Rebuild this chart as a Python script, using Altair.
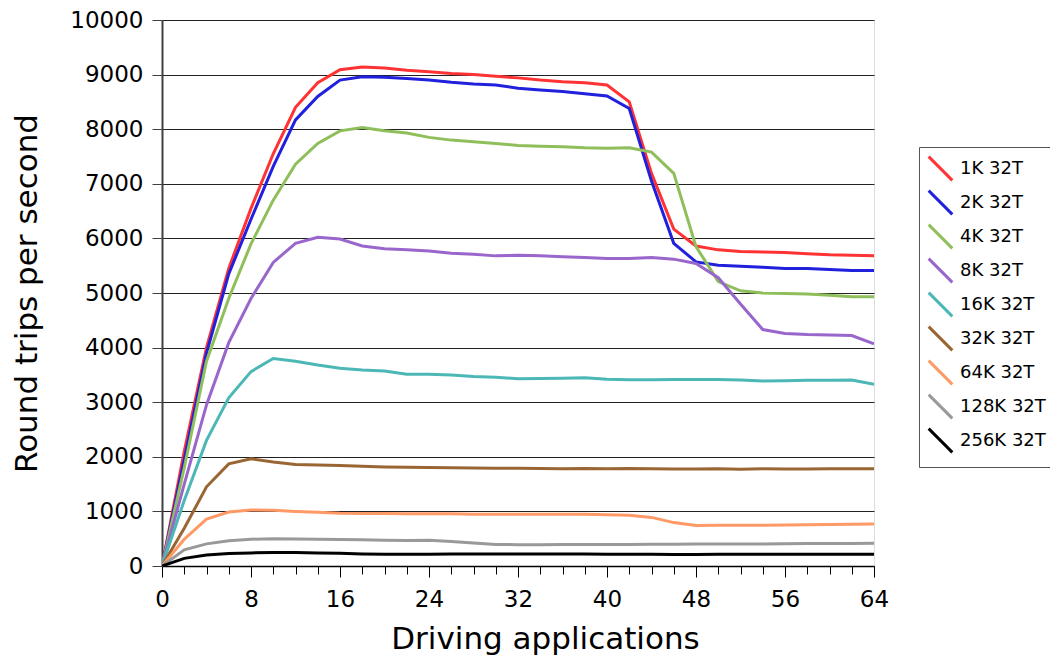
import altair as alt
import pandas as pd

x_vals = list(range(0, 65, 2))

series_names = ["1K 32T", "2K 32T", "4K 32T", "8K 32T", "16K 32T",
                "32K 32T", "64K 32T", "128K 32T", "256K 32T"]
series_colors = ["#ff3333", "#2020dd", "#8fbf5a", "#9966cc", "#4cb8b6",
                 "#996633", "#ff9966", "#999999", "#000000"]

s1k = [0, 2100, 4000, 5450, 6550, 7550, 8400, 8850, 9090, 9140, 9120, 9080, 9050,
       9020, 9000, 8970, 8940, 8900, 8870, 8850, 8810, 8500, 7190, 6170, 5860,
       5790, 5760, 5750, 5740, 5720, 5700, 5690, 5680]
s2k = [0, 1950, 3900, 5350, 6350, 7320, 8170, 8600, 8900, 8960, 8950, 8930, 8900,
       8860, 8830, 8810, 8750, 8720, 8690, 8650, 8610, 8380, 7050, 5910, 5570,
       5510, 5490, 5470, 5450, 5450, 5430, 5410, 5410]
s4k = [0, 1800, 3750, 4900, 5900, 6700, 7360, 7740, 7970, 8030, 7970, 7930, 7850,
       7800, 7770, 7740, 7700, 7690, 7680, 7660, 7650, 7660, 7580, 7190, 5850,
       5210, 5040, 5000, 4990, 4980, 4960, 4930, 4930]
s8k = [0, 1500, 2950, 4090, 4900, 5560, 5910, 6020, 5990, 5860, 5810, 5790, 5770,
       5730, 5710, 5680, 5690, 5680, 5665, 5650, 5630, 5630, 5650, 5620, 5540,
       5280, 4800, 4330, 4260, 4240, 4230, 4220, 4070]
s16k = [0, 1200, 2300, 3080, 3560, 3800, 3750, 3680, 3620, 3590, 3570, 3510, 3510,
        3500, 3470, 3455, 3430, 3435, 3440, 3450, 3420, 3410, 3410, 3415, 3415,
        3415, 3405, 3390, 3395, 3400, 3400, 3405, 3330]
s32k = [0, 690, 1450, 1870, 1965, 1905, 1860, 1850, 1840, 1825, 1815, 1810, 1805,
        1800, 1795, 1790, 1790, 1785, 1780, 1785, 1780, 1785, 1780, 1775, 1775,
        1780, 1770, 1780, 1775, 1775, 1780, 1780, 1780]
s64k = [0, 490, 860, 990, 1025, 1020, 1000, 985, 965, 960, 960, 955, 955,
        955, 950, 950, 950, 948, 946, 946, 940, 930, 890, 795, 740,
        745, 748, 748, 750, 755, 760, 765, 768]
s128k = [0, 295, 405, 462, 490, 500, 495, 490, 485, 480, 470, 465, 470,
         450, 420, 395, 390, 390, 392, 395, 395, 395, 398, 400, 402,
         403, 405, 405, 408, 410, 410, 413, 415]
s256k = [0, 140, 200, 230, 240, 245, 245, 240, 232, 222, 215, 215, 215,
         218, 220, 220, 220, 220, 218, 218, 216, 215, 215, 212, 212,
         213, 215, 215, 215, 215, 215, 215, 215]

all_series = [s1k, s2k, s4k, s8k, s16k, s32k, s64k, s128k, s256k]

rows = []
for order, (name, vals) in enumerate(zip(series_names, all_series)):
    for xv, yv in zip(x_vals, vals):
        rows.append({"apps": xv, "rtps": yv, "series": name, "order": order})
df = pd.DataFrame(rows)

FONT = "DejaVu Sans"

chart = alt.Chart(df).mark_line(strokeWidth=3, clip=True).encode(
    x=alt.X("apps:Q",
            scale=alt.Scale(domain=[0, 64], nice=False, zero=True),
            axis=alt.Axis(
                title="Driving applications",
                titleX=383,
                titleY=82,
                titleAnchor="start",
                titleAlign="center",
                titleBaseline="alphabetic",
                values=x_vals,
                labelExpr="datum.value % 8 == 0 ? datum.label : ''",
                grid=False,
                domainColor="#000000",
                domainWidth=1.5,
                tickColor="#000000",
                tickWidth=1,
                tickSize={"condition": {"test": "datum.value % 8 == 0", "value": 11}, "value": 8},
                labelFont=FONT,
                labelFontSize=23,
                labelColor="#000000",
                labelPadding=11,
                labelFlush=False,
                titleFont=FONT,
                titleFontSize=31,
                titleFontWeight="normal",
                titleColor="#000000",
            )),
    y=alt.Y("rtps:Q",
            scale=alt.Scale(domain=[0, 10000], nice=False),
            axis=alt.Axis(
                title="Round trips per second",
                values=list(range(0, 10001, 1000)),
                format="d",
                grid=True,
                gridColor="#222222",
                gridWidth=1,
                domainColor="#404040",
                domainWidth=2,
                tickColor="#404040",
                tickWidth=1,
                tickSize=10,
                labelFont=FONT,
                labelFontSize=23,
                labelColor="#000000",
                labelPadding=9,
                labelFlush=False,
                titleFont=FONT,
                titleFontSize=31,
                titleFontWeight="normal",
                titleColor="#000000",
                titlePadding=26,
            )),
    color=alt.Color("series:N",
                    scale=alt.Scale(domain=series_names, range=series_colors),
                    legend=alt.Legend(
                        title=None,
                        orient="none",
                        legendX=757,
                        legendY=127,
                        symbolType="M-1,-1L1,1",
                        symbolSize=560,
                        symbolStrokeWidth=3,
                        labelFont=FONT,
                        labelFontSize=18,
                        labelColor="#000000",
                        labelOffset=6,
                        rowPadding=-3,
                        padding=8,
                        strokeColor="#555555",
                        fillColor="#ffffff",
                    )),
    order=alt.Order("order:Q"),
    detail="series:N",
).properties(
    width=712,
    height=546,
    autosize=alt.AutoSizeParams(type="none"),
    padding={"left": 154, "top": 12, "right": 176, "bottom": 91},
).configure_view(stroke=None).configure(background="#ffffff")

chart.save("out.html", embed_options={"renderer": "svg", "actions": False})
